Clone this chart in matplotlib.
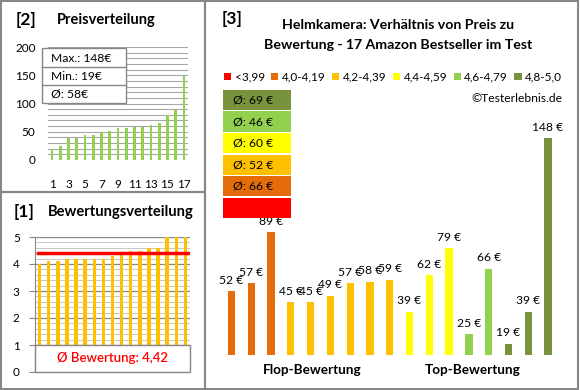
import numpy as np
import matplotlib
matplotlib.use("Agg")
import matplotlib.pyplot as plt
from matplotlib.patches import Rectangle, Patch
from matplotlib.lines import Line2D

plt.rcParams["font.family"] = ["Lato", "DejaVu Sans"]

# Products as shown in panel [3] (grouped by rating class)
PRICES = [52, 57, 89, 45, 45, 49, 57, 58, 59, 39, 62, 79, 25, 66, 19, 39, 148]
RATINGS = [4.0, 4.1, 4.1, 4.2, 4.2, 4.2, 4.2, 4.2, 4.3, 4.4, 4.5, 4.5, 4.6, 4.6, 5.0, 5.0, 5.0]

CLASS_LABELS = ["<3,99", "4,0-4,19", "4,2-4,39", "4,4-4,59", "4,6-4,79", "4,8-5,0"]
CLASS_EDGES = [4.0, 4.2, 4.4, 4.6, 4.8]
CLASS_COLORS = ["#FF0000", "#E46C0A", "#FFC000", "#FFFF00", "#92D050", "#77933C"]

PRICE_TICKS = [0, 50, 100, 150, 200]
RATING_TICKS = [0, 1, 2, 3, 4, 5]

W, H = 580, 390
GRAY = "#878787"


def rect(x0, y0, x1, y1):
    # pixel box -> figure fraction [left, bottom, width, height]
    return [x0 / W, 1 - y1 / H, (x1 - x0) / W, (y1 - y0) / H]


def fx(x):
    return x / W


def fy(y):
    return 1 - y / H


def box(fig, x0, y0, x1, y1, fc="white", ec=GRAY, lw=1.2, z=3):
    fig.add_artist(Rectangle((fx(x0), fy(y1)), (x1 - x0) / W, (y1 - y0) / H,
                             transform=fig.transFigure, facecolor=fc,
                             edgecolor=ec, linewidth=lw, zorder=z))


prices = np.array(PRICES)
ratings = np.array(RATINGS)
cls = np.digitize(ratings, CLASS_EDGES)  # 0 = "<3,99" ... 5 = "4,8-5,0"

fig = plt.figure(figsize=(W / 100, H / 100), dpi=100)

# panel frames
box(fig, 1, 1, 205, 192, fc="none", lw=1.5, z=0)
box(fig, 1, 192, 205, 389, fc="none", lw=1.5, z=0)
box(fig, 205, 1, 578, 389, fc="none", lw=1.5, z=0)

# ---------------- [2] Preisverteilung ----------------
ax2 = fig.add_axes(rect(48, 47, 188, 160))
x = np.arange(1, len(prices) + 1)
ax2.bar(x, np.sort(prices), width=0.33, color="#92D050", zorder=2)
ax2.set_xlim(0.5, 17.5)
ax2.set_ylim(0, 200)
ax2.set_yticks(PRICE_TICKS)
ax2.set_yticks(np.arange(0, 201, 10), minor=True)
ax2.set_xticks(x[::2])
ax2.grid(True, which="both", axis="y", color="#a6a6a6", lw=0.8, zorder=0)
for s in ax2.spines.values():
    s.set_visible(False)
ax2.tick_params(axis="y", length=0, pad=9, labelsize=8.5, which="both")
ax2.tick_params(axis="x", length=0, pad=14, labelsize=8.5)

fig.text(fx(16), fy(20), "[2]", fontsize=12.5, fontweight="bold", va="center")
fig.text(fx(57), fy(20), "Preisverteilung", fontsize=10.5, fontweight="bold", va="center")

box(fig, 42, 48, 126, 103, lw=1.0)
fig.add_artist(Line2D([fx(42), fx(126)], [fy(67), fy(67)], color=GRAY, lw=1.0, zorder=4))
fig.add_artist(Line2D([fx(42), fx(126)], [fy(85), fy(85)], color=GRAY, lw=1.0, zorder=4))
stats = [f"Max.: {prices.max()}€", f"Min.: {prices.min()}€", f"Ø: {round(prices.mean())}€"]
for i, t in enumerate(stats):
    fig.text(fx(51), fy(58 + 18 * i), t, fontsize=8.7, va="center", zorder=5)

# ---------------- [1] Bewertungsverteilung ----------------
ax1 = fig.add_axes(rect(35, 237, 190, 372))
ax1.bar(x, np.sort(ratings), width=0.38, color="#FFC000", zorder=2)
ax1.set_xlim(0.5, 17.5)
ax1.set_ylim(0, 5)
ax1.set_yticks(RATING_TICKS)
ax1.set_yticks(np.arange(0, 5.01, 0.2), minor=True)
ax1.set_xticks([])
ax1.grid(True, which="major", axis="y", color="#868686", lw=0.9, zorder=0)
ax1.grid(True, which="minor", axis="y", color="#c8c8c8", lw=0.7, zorder=0)
for k, s in ax1.spines.items():
    s.set_visible(k == "left")
ax1.spines["left"].set_color(GRAY)
ax1.tick_params(axis="y", which="major", length=4, color=GRAY, pad=7, labelsize=8.5)
ax1.tick_params(axis="y", which="minor", length=0)
mean_r = ratings.mean()
ax1.axhline(mean_r, xmin=0.02, xmax=0.985, color="#FF0000", lw=2.5, zorder=3)
ax1.add_patch(Rectangle((0.5, 0), 17, 1, facecolor="white", edgecolor=GRAY,
                        lw=1.0, zorder=4, clip_on=False))
ax1.text(9, 0.5, f"Ø Bewertung: {mean_r:.2f}".replace(".", ","), color="#FF0000",
         fontsize=9.5, fontweight="semibold", ha="center", va="center", zorder=5)

fig.text(fx(14), fy(212), "[1]", fontsize=12.5, fontweight="bold", va="center")
fig.text(fx(48), fy(212), "Bewertungsverteilung", fontsize=10.6, fontweight="bold", va="center")

# ---------------- [3] Preis vs Bewertung ----------------
ax3 = fig.add_axes(rect(221.6, 110, 557.9, 355))
xi = np.arange(len(prices))
colors = [CLASS_COLORS[c] for c in cls]
bars = ax3.bar(xi, prices, width=0.37, color=colors, zorder=2)
ax3.bar_label(bars, labels=[f"{p} €" for p in prices], padding=4, fontsize=8.7)
ax3.set_xlim(-0.5, 16.5)
ax3.set_ylim(12, 165.6)
ax3.axis("off")

fig.text(fx(222), fy(19), "[3]", fontsize=12.5, fontweight="bold", va="center")
fig.text(fx(398), fy(25), "Helmkamera: Verhältnis von Preis zu", fontsize=10.2,
         fontweight="bold", ha="center", va="center")
fig.text(fx(398), fy(45), "Bewertung - 17 Amazon Bestseller im Test", fontsize=10.2,
         fontweight="bold", ha="center", va="center")

handles = [Patch(facecolor=c, edgecolor="none") for c in CLASS_COLORS]
fig.legend(handles, CLASS_LABELS, loc="center", bbox_to_anchor=(fx(393), fy(77)),
           ncol=6, frameon=False, fontsize=8.5, handlelength=0.6, handleheight=0.6,
           handletextpad=0.3, columnspacing=0.55, borderaxespad=0, borderpad=0)
fig.text(fx(562), fy(98), "©Testerlebnis.de", fontsize=8.7, ha="right", va="center")

# average price per rating class, best class on top
row_top = 90
for c in range(len(CLASS_COLORS) - 1, -1, -1):
    sel = prices[cls == c]
    box(fig, 223, row_top, 291, row_top + 20, fc=CLASS_COLORS[c], ec="none", z=6)
    if len(sel):
        fig.text(fx(233), fy(row_top + 10), f"Ø: {round(sel.mean())} €", fontsize=8.7,
                 va="center", zorder=7)
    row_top += 21.5

fig.text(fx(312), fy(370), "Flop-Bewertung", fontsize=9.7, fontweight="bold",
         ha="center", va="center")
fig.text(fx(473), fy(370), "Top-Bewertung", fontsize=9.7, fontweight="bold",
         ha="center", va="center")

fig.savefig("out.png", dpi=100)
